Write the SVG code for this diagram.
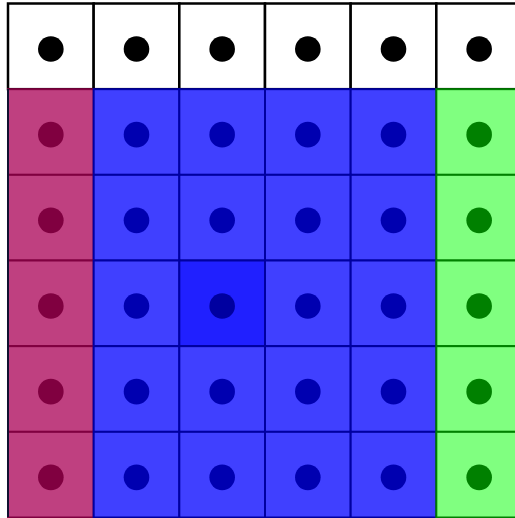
<svg xmlns="http://www.w3.org/2000/svg" width="515" height="518" viewBox="0 0 515 518">
<style>
rect.w{fill:#ffffff;stroke:#000000;stroke-width:2.5}
circle.w{fill:#000000}
rect.r{fill:#bf4080;stroke:#800040;stroke-width:2}
circle.r{fill:#800040}
rect.b{fill:#4040ff;stroke:#0000a0;stroke-width:2}
circle.b{fill:#0000b0}
rect.h{fill:#2020ff;stroke:#0000a0;stroke-width:2}
circle.h{fill:#0000a0}
rect.g{fill:#80ff80;stroke:#008000;stroke-width:2}
circle.g{fill:#008000}
</style>
<rect width="515" height="518" fill="#ffffff"/>
<g id="row0">
<g id="c0_0" transform="translate(8,3.5)"><rect class="w" width="85.67" height="85.67"/><circle class="w" cx="42.83" cy="45.5" r="12.8"/></g>
<g id="c0_1" transform="translate(93.67,3.5)"><rect class="w" width="85.67" height="85.67"/><circle class="w" cx="42.83" cy="45.5" r="12.8"/></g>
<g id="c0_2" transform="translate(179.33,3.5)"><rect class="w" width="85.67" height="85.67"/><circle class="w" cx="42.83" cy="45.5" r="12.8"/></g>
<g id="c0_3" transform="translate(265,3.5)"><rect class="w" width="85.67" height="85.67"/><circle class="w" cx="42.83" cy="45.5" r="12.8"/></g>
<g id="c0_4" transform="translate(350.67,3.5)"><rect class="w" width="85.67" height="85.67"/><circle class="w" cx="42.83" cy="45.5" r="12.8"/></g>
<g id="c0_5" transform="translate(436.33,3.5)"><rect class="w" width="85.67" height="85.67"/><circle class="w" cx="42.83" cy="45.5" r="12.8"/></g>
</g>
<g id="row1">
<g id="c1_0" transform="translate(8,89.17)"><rect class="r" width="85.67" height="85.67"/><circle class="r" cx="42.83" cy="45.5" r="12.8"/></g>
<g id="c1_1" transform="translate(93.67,89.17)"><rect class="b" width="85.67" height="85.67"/><circle class="b" cx="42.83" cy="45.5" r="12.8"/></g>
<g id="c1_2" transform="translate(179.33,89.17)"><rect class="b" width="85.67" height="85.67"/><circle class="b" cx="42.83" cy="45.5" r="12.8"/></g>
<g id="c1_3" transform="translate(265,89.17)"><rect class="b" width="85.67" height="85.67"/><circle class="b" cx="42.83" cy="45.5" r="12.8"/></g>
<g id="c1_4" transform="translate(350.67,89.17)"><rect class="b" width="85.67" height="85.67"/><circle class="b" cx="42.83" cy="45.5" r="12.8"/></g>
<g id="c1_5" transform="translate(436.33,89.17)"><rect class="g" width="85.67" height="85.67"/><circle class="g" cx="42.83" cy="45.5" r="12.8"/></g>
</g>
<g id="row2">
<g id="c2_0" transform="translate(8,174.83)"><rect class="r" width="85.67" height="85.67"/><circle class="r" cx="42.83" cy="45.5" r="12.8"/></g>
<g id="c2_1" transform="translate(93.67,174.83)"><rect class="b" width="85.67" height="85.67"/><circle class="b" cx="42.83" cy="45.5" r="12.8"/></g>
<g id="c2_2" transform="translate(179.33,174.83)"><rect class="b" width="85.67" height="85.67"/><circle class="b" cx="42.83" cy="45.5" r="12.8"/></g>
<g id="c2_3" transform="translate(265,174.83)"><rect class="b" width="85.67" height="85.67"/><circle class="b" cx="42.83" cy="45.5" r="12.8"/></g>
<g id="c2_4" transform="translate(350.67,174.83)"><rect class="b" width="85.67" height="85.67"/><circle class="b" cx="42.83" cy="45.5" r="12.8"/></g>
<g id="c2_5" transform="translate(436.33,174.83)"><rect class="g" width="85.67" height="85.67"/><circle class="g" cx="42.83" cy="45.5" r="12.8"/></g>
</g>
<g id="row3">
<g id="c3_0" transform="translate(8,260.5)"><rect class="r" width="85.67" height="85.67"/><circle class="r" cx="42.83" cy="45.5" r="12.8"/></g>
<g id="c3_1" transform="translate(93.67,260.5)"><rect class="b" width="85.67" height="85.67"/><circle class="b" cx="42.83" cy="45.5" r="12.8"/></g>
<g id="c3_2" transform="translate(179.33,260.5)"><rect class="h" width="85.67" height="85.67"/><circle class="h" cx="42.83" cy="45.5" r="12.8"/></g>
<g id="c3_3" transform="translate(265,260.5)"><rect class="b" width="85.67" height="85.67"/><circle class="b" cx="42.83" cy="45.5" r="12.8"/></g>
<g id="c3_4" transform="translate(350.67,260.5)"><rect class="b" width="85.67" height="85.67"/><circle class="b" cx="42.83" cy="45.5" r="12.8"/></g>
<g id="c3_5" transform="translate(436.33,260.5)"><rect class="g" width="85.67" height="85.67"/><circle class="g" cx="42.83" cy="45.5" r="12.8"/></g>
</g>
<g id="row4">
<g id="c4_0" transform="translate(8,346.17)"><rect class="r" width="85.67" height="85.67"/><circle class="r" cx="42.83" cy="45.5" r="12.8"/></g>
<g id="c4_1" transform="translate(93.67,346.17)"><rect class="b" width="85.67" height="85.67"/><circle class="b" cx="42.83" cy="45.5" r="12.8"/></g>
<g id="c4_2" transform="translate(179.33,346.17)"><rect class="b" width="85.67" height="85.67"/><circle class="b" cx="42.83" cy="45.5" r="12.8"/></g>
<g id="c4_3" transform="translate(265,346.17)"><rect class="b" width="85.67" height="85.67"/><circle class="b" cx="42.83" cy="45.5" r="12.8"/></g>
<g id="c4_4" transform="translate(350.67,346.17)"><rect class="b" width="85.67" height="85.67"/><circle class="b" cx="42.83" cy="45.5" r="12.8"/></g>
<g id="c4_5" transform="translate(436.33,346.17)"><rect class="g" width="85.67" height="85.67"/><circle class="g" cx="42.83" cy="45.5" r="12.8"/></g>
</g>
<g id="row5">
<g id="c5_0" transform="translate(8,431.83)"><rect class="r" width="85.67" height="85.67"/><circle class="r" cx="42.83" cy="45.5" r="12.8"/></g>
<g id="c5_1" transform="translate(93.67,431.83)"><rect class="b" width="85.67" height="85.67"/><circle class="b" cx="42.83" cy="45.5" r="12.8"/></g>
<g id="c5_2" transform="translate(179.33,431.83)"><rect class="b" width="85.67" height="85.67"/><circle class="b" cx="42.83" cy="45.5" r="12.8"/></g>
<g id="c5_3" transform="translate(265,431.83)"><rect class="b" width="85.67" height="85.67"/><circle class="b" cx="42.83" cy="45.5" r="12.8"/></g>
<g id="c5_4" transform="translate(350.67,431.83)"><rect class="b" width="85.67" height="85.67"/><circle class="b" cx="42.83" cy="45.5" r="12.8"/></g>
<g id="c5_5" transform="translate(436.33,431.83)"><rect class="g" width="85.67" height="85.67"/><circle class="g" cx="42.83" cy="45.5" r="12.8"/></g>
</g>
<g id="connectors"/>
<line x1="8" y1="89" x2="8" y2="517" stroke="#101030" stroke-width="2"/>
</svg>
